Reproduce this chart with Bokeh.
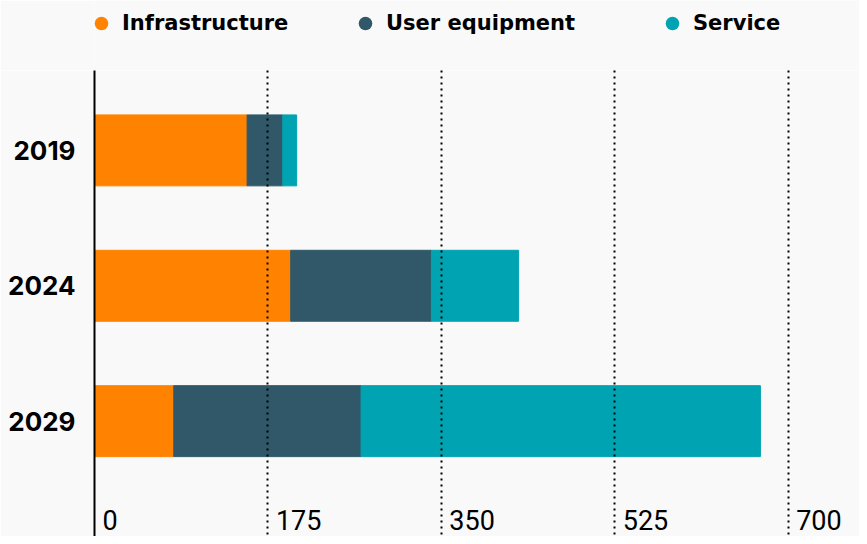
from bokeh.plotting import figure
from bokeh.layouts import column
from bokeh.models import (ColumnDataSource, Range1d, FixedTicker, Grid,
                          Legend, LegendItem, LabelSet)
from bokeh.core.properties import value
from bokeh.embed import file_html
from bokeh.resources import INLINE

# ---- data ----
years = ["2019", "2024", "2029"]
infrastructure = [154, 198, 80]
user_equipment = [36, 142, 189]
service = [14, 88, 403]
series = ["Infrastructure", "User equipment", "Service"]
colors = ["#FF8200", "#305869", "#00A3B2"]
x_ticks = [0, 175, 350, 525, 700]
x_tick_labels = ["0", "175", "350", "525", "700"]

BG = "#f9f9f9"
year_num = [int(y) for y in years]

source = ColumnDataSource(data=dict(
    year=year_num,
    Infrastructure=infrastructure,
    **{"User equipment": user_equipment},
    Service=service,
))

# ---- main chart ----
p = figure(width=859, height=466, output_backend="svg", toolbar_location=None,
           x_range=Range1d(0, 772), y_range=Range1d(2033.26, 2016.05),
           x_axis_location=None, y_axis_location="left",
           min_border_left=94, min_border_right=0, min_border_top=0, min_border_bottom=0,
           background_fill_color=BG, border_fill_color=BG, outline_line_color=None)

renderers = p.hbar_stack(series, y="year", height=2.62, color=colors, source=source)

for g in p.xgrid + p.ygrid:
    g.visible = False

# vertical dotted grid on top of bars
grid = Grid(dimension=0, ticker=FixedTicker(ticks=x_ticks[1:]), grid_line_color="black",
            grid_line_width=2, grid_line_dash="2 4", level="overlay")
p.add_layout(grid)

# y axis
ya = p.yaxis[0]
ya.ticker = FixedTicker(ticks=year_num)
ya.major_label_overrides = {n: s for n, s in zip(year_num, years)}
ya.axis_line_color = "black"
ya.axis_line_width = 2
ya.major_tick_line_color = None
ya.minor_tick_line_color = None
ya.major_tick_out = 0
ya.major_label_standoff = 19
ya.major_label_text_font = "Inter"
ya.major_label_text_font_style = "bold"
ya.major_label_text_font_size = "26px"
ya.major_label_text_color = "black"

# x tick labels, left-aligned just right of each gridline
tick_src = ColumnDataSource(data=dict(x=x_ticks, text=x_tick_labels))
ticks = LabelSet(x="x", y=7, y_units="screen", text="text", source=tick_src,
                 x_offset=8, text_align="left", text_baseline="alphabetic",
                 text_font=value("Roboto"), text_font_size="27px", text_color="black")
p.add_layout(ticks)

# ---- legend strip above the chart ----
lg = figure(width=859, height=70, output_backend="svg", toolbar_location=None,
            x_range=Range1d(0, 1), y_range=Range1d(0, 1),
            x_axis_location=None, y_axis_location=None,
            min_border_left=0, min_border_right=0, min_border_top=0, min_border_bottom=0,
            background_fill_color=BG, border_fill_color=BG, outline_line_color=None)
for g in lg.xgrid + lg.ygrid:
    g.visible = False

leg_x = [-10, 254, 561]
for name, col, vx in zip(series, colors, leg_x):
    # marker renderer only used for the legend swatch (points fall outside this strip's range)
    swatch = lg.scatter(x=name, y="year", source=source, marker="circle", size=11,
                        fill_color=col, line_color=None)
    leg = Legend(items=[LegendItem(label=name, renderers=[swatch])],
                 location=(vx, 30), orientation="horizontal",
                 glyph_width=34, glyph_height=34, label_standoff=4,
                 padding=0, margin=0, spacing=0,
                 background_fill_alpha=0, border_line_color=None,
                 label_text_font="DejaVu Sans", label_text_font_style="bold",
                 label_text_font_size="21px", label_text_color="black")
    lg.add_layout(leg)

layout = column(lg, p, spacing=0)
open("out.html", "w").write(file_html(layout, INLINE))
